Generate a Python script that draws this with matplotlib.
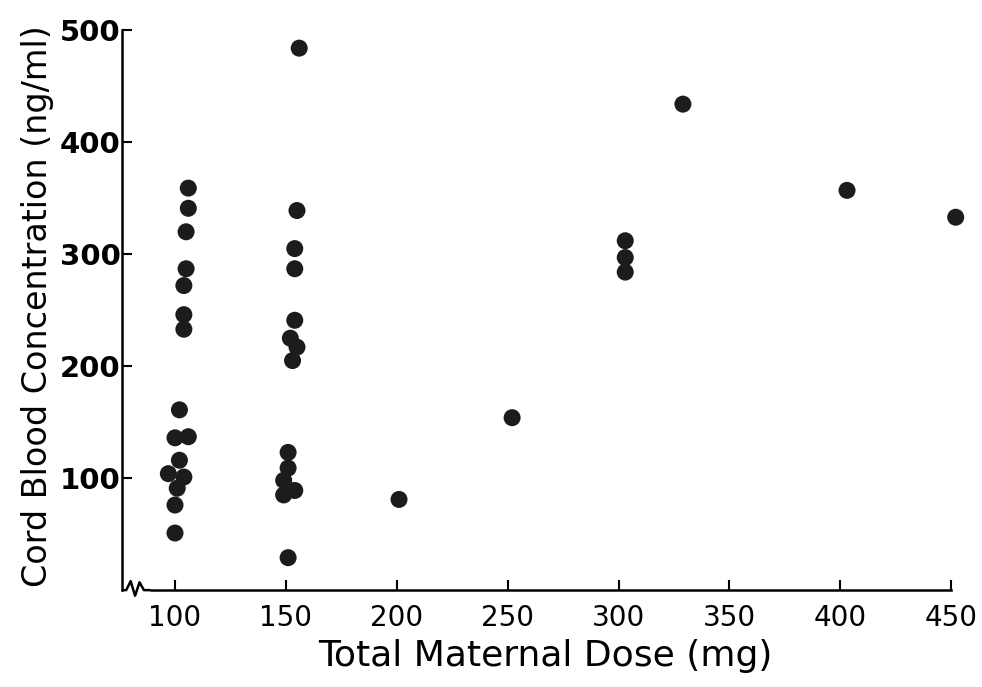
import matplotlib
matplotlib.use("Agg")
import matplotlib.pyplot as plt

# dose (mg) and cord blood concentration (ng/ml)
dose = [106, 106, 105, 105, 104, 104, 104, 102, 100, 106, 102, 97, 104, 101, 100, 100,
        156, 155, 154, 154, 154, 152, 155, 153, 151, 151, 149, 154, 149, 151,
        201, 252, 303, 303, 303, 329, 403, 452]
conc = [359, 341, 320, 287, 272, 246, 233, 161, 136, 137, 116, 104, 101, 91, 76, 51,
        484, 339, 305, 287, 241, 225, 217, 205, 123, 109, 98, 89, 85, 29,
        81, 154, 312, 297, 284, 434, 357, 333]

x_ticks = [100, 150, 200, 250, 300, 350, 400, 450]
y_ticks = [100, 200, 300, 400, 500]

plt.rcParams['font.family'] = ['DejaVu Sans']

fig = plt.figure(figsize=(9.82, 6.87), dpi=100)
ax = fig.add_axes([0.124, 0.141, 0.856, 0.815])

ax.scatter(dose, conc, s=150, color='#1c1c1c', edgecolors='none', zorder=3, clip_on=False)

ax.set_xlim(76, 455)
ax.set_ylim(0, 500)
ax.spines['top'].set_visible(False)
ax.spines['right'].set_visible(False)
ax.spines['left'].set_linewidth(1.8)
ax.spines['bottom'].set_linewidth(1.8)
ax.spines['left'].set_bounds(0, 500)
ax.spines['bottom'].set_bounds(89, 450)

# broken-axis squiggle at the origin
ax.plot([76, 78, 80, 82, 84, 86, 89], [0, 0, 8, -5, 7, 0, 0], color='black', lw=1.8,
        clip_on=False, solid_capstyle='butt')

ax.set_xticks(x_ticks)
ax.set_yticks(y_ticks)
ax.tick_params(direction='in', length=7, width=1.5)
ax.set_xticklabels([str(v) for v in x_ticks], fontsize=20)
ax.set_yticklabels([str(v) for v in y_ticks], fontsize=21, fontweight='bold')
ax.tick_params(axis='x', pad=10)
ax.tick_params(axis='y', pad=1)

fig.text(0.555, 0.045, 'Total Maternal Dose (mg)', ha='center', va='center', fontsize=26)
fig.text(0.038, 0.555, 'Cord Blood Concentration (ng/ml)', ha='center', va='center',
         rotation=90, fontsize=24)

fig.savefig('out.png', dpi=100)
